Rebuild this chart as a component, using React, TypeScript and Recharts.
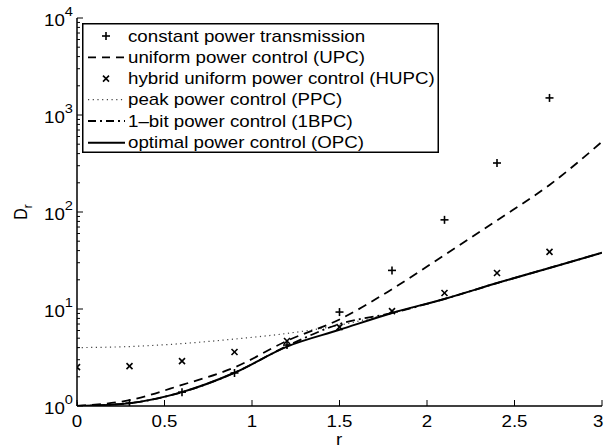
import React from 'react';
import { LineChart, Line, XAxis, YAxis, Legend } from 'recharts';

// ---- data ----
const rValues = [0, 0.3, 0.6, 0.9, 1.2, 1.5, 1.8, 2.1, 2.4, 2.7, 3.0];
const constantPower = [1.0, 1.07, 1.39, 2.19, 4.25, 9.3, 25, 83, 320, 1500, null];
const uniformPower = [1.0, 1.15, 1.65, 2.5, 4.7, 7.8, 16, 36, 82, 190, 530];
const hybridUniform = [2.52, 2.58, 2.9, 3.6, 4.68, 6.5, 9.5, 14.6, 23.5, 38.8, null];
const peakPower = [4.0, 4.1, 4.4, 4.9, 5.6, 6.8, 9.1, 12.7, 18.5, 26.5, 38];
const oneBitPower = [1.0, 1.07, 1.39, 2.2, 4.15, 7.0, 9.1, 12.7, 18.5, 26.5, 38];
const optimalPower = [1.0, 1.07, 1.39, 2.2, 4.1, 6.1, 9.1, 12.7, 18.5, 26.5, 38];

const xTicks = [0, 0.5, 1, 1.5, 2, 2.5, 3];
const yMajorTicks = [1, 10, 100, 1000, 10000];
const yMinorMultipliers = [2, 3, 4, 5, 6, 7, 8, 9];

const legendLabels = [
  'constant power transmission',
  'uniform power control (UPC)',
  'hybrid uniform power control (HUPC)',
  'peak power control (PPC)',
  '1\u2013bit power control (1BPC)',
  'optimal power control (OPC)',
];

const data = rValues.map((r, i) => ({
  r,
  cpt: constantPower[i],
  upc: uniformPower[i],
  hupc: hybridUniform[i],
  ppc: peakPower[i],
  bpc: oneBitPower[i],
  opc: optimalPower[i],
}));

const yTicks: number[] = [];
yMajorTicks.forEach((m, i) => {
  yTicks.push(m);
  if (i < yMajorTicks.length - 1) yMinorMultipliers.forEach((k) => yTicks.push(m * k));
});

const FONT = '"Liberation Sans", Arial, Helvetica, sans-serif';
const SX = 1.17;
const CHART_W = 604;

const isMajor = (v: number) => {
  const e = Math.round(Math.log10(v));
  return Math.abs(v - Math.pow(10, e)) < 1e-6 * v;
};

const BottomTick = (props: any) => {
  const { x, y, payload } = props;
  const label = String(payload.value);
  const half = (label.length * 0.556 * 16 * SX) / 2;
  const lx = Math.min(x, CHART_W - half - 0.5);
  return (
    <g>
      <line x1={x} x2={x} y1={y} y2={y - 6} stroke="#000" strokeWidth={1} />
      <g transform={`translate(${lx},${y + 21})`}>
        <text transform={`scale(${SX},1)`} textAnchor="middle" fontSize={16} fontFamily={FONT} fill="#000">
          {label}
        </text>
      </g>
    </g>
  );
};

const TopTick = (props: any) => {
  const { x, y } = props;
  return <line x1={x} x2={x} y1={y} y2={y + 6} stroke="#000" strokeWidth={1} />;
};

const LeftTick = (props: any) => {
  const { x, y, payload } = props;
  const v = payload.value;
  const major = isMajor(v);
  const e = Math.round(Math.log10(v));
  return (
    <g>
      <line x1={x} x2={x + (major ? 6 : 3)} y1={y} y2={y} stroke="#000" strokeWidth={1} />
      {major && (
        <g transform={`translate(${x - 4},${y + 7.5})`}>
          <text transform={`scale(${SX},1)`} textAnchor="end" fontSize={16} fontFamily={FONT} fill="#000">
            <tspan>10</tspan>
            <tspan dy={-10} fontSize={12.5}>{String(e)}</tspan>
          </text>
        </g>
      )}
    </g>
  );
};

const RightTick = (props: any) => {
  const { x, y, payload } = props;
  const major = isMajor(payload.value);
  return <line x1={x} x2={x - (major ? 6 : 3)} y1={y} y2={y} stroke="#000" strokeWidth={1} />;
};

const PlusDot = (props: any) => {
  const { cx, cy, value, index } = props;
  if (value == null || cx == null || cy == null) return <g key={`p${index}`} />;
  return (
    <g key={`p${index}`}>
      <line x1={cx - 4} x2={cx + 4} y1={cy} y2={cy} stroke="#000" strokeWidth={1.6} />
      <line x1={cx} x2={cx} y1={cy - 4} y2={cy + 4} stroke="#000" strokeWidth={1.6} />
    </g>
  );
};

const CrossDot = (props: any) => {
  const { cx, cy, value, index } = props;
  if (value == null || cx == null || cy == null) return <g key={`x${index}`} />;
  return (
    <g key={`x${index}`}>
      <line x1={cx - 3} x2={cx + 3} y1={cy - 3} y2={cy + 3} stroke="#000" strokeWidth={1.6} />
      <line x1={cx - 3} x2={cx + 3} y1={cy + 3} y2={cy - 3} stroke="#000" strokeWidth={1.6} />
    </g>
  );
};

const DASH = '9 6';
const DOT = '1.2 3.5';
const DASHDOT = '9 4 2 4';

const LegendBox = () => {
  const w = 357;
  const h = 130;
  const rows = [13, 34.3, 55.6, 76.6, 98, 119.7];
  const sx1 = 6, sx2 = 43, mx = 24, tx = 46;
  return (
    <svg width={w} height={h} style={{ display: 'block' }}>
      <rect x={0.75} y={0.75} width={w - 1.5} height={h - 1.5} fill="#fff" stroke="#000" strokeWidth={1.5} />
      <g>
        <line x1={mx - 4} x2={mx + 4} y1={rows[0]} y2={rows[0]} stroke="#000" strokeWidth={1.6} />
        <line x1={mx} x2={mx} y1={rows[0] - 4} y2={rows[0] + 4} stroke="#000" strokeWidth={1.6} />
      </g>
      <line x1={sx1} x2={sx2} y1={rows[1]} y2={rows[1]} stroke="#000" strokeWidth={1.8} strokeDasharray="8 6" />
      <g>
        <line x1={mx - 3} x2={mx + 3} y1={rows[2] - 3} y2={rows[2] + 3} stroke="#000" strokeWidth={1.6} />
        <line x1={mx - 3} x2={mx + 3} y1={rows[2] + 3} y2={rows[2] - 3} stroke="#000" strokeWidth={1.6} />
      </g>
      <line x1={sx1} x2={sx2} y1={rows[3]} y2={rows[3]} stroke="#444" strokeWidth={1.2} strokeDasharray={DOT} />
      <line x1={sx1} x2={sx2} y1={rows[4]} y2={rows[4]} stroke="#000" strokeWidth={1.8} strokeDasharray="8 4 2 4" />
      <line x1={sx1} x2={sx2} y1={rows[5]} y2={rows[5]} stroke="#000" strokeWidth={2} />
      {legendLabels.map((t, i) => (
        <g key={t} transform={`translate(${tx},${rows[i] + 5.5})`}>
          <text transform={`scale(${SX},1)`} fontSize={16} fontFamily={FONT} fill="#000">
            {t}
          </text>
        </g>
      ))}
    </svg>
  );
};

export default function App() {
  return (
    <div style={{ position: 'absolute', left: 0, top: 0, width: 604, height: 448, background: '#fff' }}>
      <LineChart width={CHART_W} height={448} data={data} margin={{ top: 18, right: 2, bottom: 0, left: 0 }}>
        <XAxis
          dataKey="r"
          type="number"
          domain={[0, 3]}
          ticks={xTicks}
          interval={0}
          height={42}
          tickSize={0}
          tickMargin={0}
          tickLine={false}
          axisLine={{ stroke: '#000', strokeWidth: 1.5 }}
          tick={<BottomTick />}
          allowDataOverflow
        />
        <XAxis
          xAxisId="top"
          orientation="top"
          dataKey="r"
          type="number"
          domain={[0, 3]}
          ticks={xTicks}
          interval={0}
          height={0}
          tickSize={0}
          tickMargin={0}
          tickLine={false}
          axisLine={{ stroke: '#000', strokeWidth: 1.5 }}
          tick={<TopTick />}
          allowDataOverflow
        />
        <YAxis
          scale="log"
          type="number"
          domain={[1, 10000]}
          ticks={yTicks}
          interval={0}
          width={77}
          tickSize={0}
          tickMargin={0}
          tickLine={false}
          axisLine={{ stroke: '#000', strokeWidth: 1.5 }}
          tick={<LeftTick />}
          allowDataOverflow
        />
        <YAxis
          yAxisId="right"
          orientation="right"
          scale="log"
          type="number"
          domain={[1, 10000]}
          ticks={yTicks}
          interval={0}
          width={0}
          tickSize={0}
          tickMargin={0}
          tickLine={false}
          axisLine={{ stroke: '#000', strokeWidth: 1.5 }}
          tick={<RightTick />}
          allowDataOverflow
        />
        <Legend
          layout="horizontal"
          verticalAlign="middle"
          align="center"
          content={() => <LegendBox />}
          wrapperStyle={{ position: 'absolute', left: 82, top: 23, width: 357, height: 130 }}
        />
        <Line type="monotone" dataKey="ppc" stroke="#444" strokeWidth={1.2} strokeDasharray={DOT} dot={false} activeDot={false} isAnimationActive={false} />
        <Line type="monotone" dataKey="bpc" stroke="#000" strokeWidth={1.8} strokeDasharray={DASHDOT} dot={false} activeDot={false} isAnimationActive={false} />
        <Line type="monotone" dataKey="upc" stroke="#000" strokeWidth={1.8} strokeDasharray={DASH} dot={false} activeDot={false} isAnimationActive={false} />
        <Line type="monotone" dataKey="opc" stroke="#000" strokeWidth={2} dot={false} activeDot={false} isAnimationActive={false} />
        <Line dataKey="cpt" stroke="none" strokeWidth={0} dot={<PlusDot />} activeDot={false} isAnimationActive={false} />
        <Line dataKey="hupc" stroke="none" strokeWidth={0} dot={<CrossDot />} activeDot={false} isAnimationActive={false} />
        <g>
          <g transform="translate(339,445)">
            <text transform={`scale(${SX},1)`} textAnchor="middle" fontSize={16} fontFamily={FONT} fill="#000">r</text>
          </g>
          <g transform={`translate(26.5,212) scale(${SX},1) rotate(-90)`}>
            <text textAnchor="middle" fontSize={16} fontFamily={FONT} fill="#000">
              D<tspan dy={5} fontSize={11.5}>r</tspan>
            </text>
          </g>
        </g>
      </LineChart>
    </div>
  );
}
